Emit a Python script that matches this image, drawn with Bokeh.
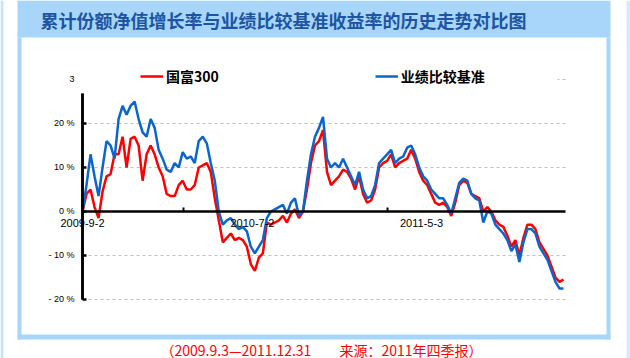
from bokeh.plotting import figure
from bokeh.models import FixedTicker, Legend, LegendItem, BoxAnnotation, Label
from bokeh.embed import file_html
from bokeh.resources import INLINE

# ---------------- data ----------------
title_text = "累计份额净值增长率与业绩比较基准收益率的历史走势对比图"
footer_text = "（2009.9.3—2011.12.31　　来源：2011年四季报）"
fund_name = "国富300"
bench_name = "业绩比较基准"

day_step = 5  # trading days between samples
fund = [0, 4, 5, 1, -1.5, 4.5, 8, 8.5, 13, 13,
        17, 10, 16.5, 17, 15, 7, 13, 15, 13, 10,
        8, 4, 3.5, 3.5, 6, 7, 5, 5, 6, 10,
        10.5, 11, 9, 3, -2, -7, -6, -5, -6.5, -6,
        -6.5, -8, -12, -13.5, -10.5, -9.5, -2.5, -3, -2.5, -2,
        -1, -2.5, -0.5, 0.5, -1.5, 0, 5, 11, 15, 16,
        18.5, 9, 6, 7, 8, 9.5, 9, 7.5, 5, 8,
        4, 2, 2.5, 5, 10, 11, 11.5, 13, 10, 11,
        11.5, 12, 14, 12, 9, 7, 6, 4, 2, 1.5,
        2, 1, -1, 2, 6, 7, 6.5, 4, 3.5, 3,
        0, 1, 0, -2, -3, -3.5, -5.5, -8, -6.5, -10,
        -6, -3, -3, -4, -7, -8.5, -10, -12.5, -15, -16,
        -15.5]
bench = [0, 6, 13, 8, 3.5, 10, 16, 15, 12, 21,
         24, 22, 24, 25, 21, 18, 17, 21, 19, 14,
         12, 9.5, 9, 11, 10, 13.5, 12, 12.5, 11, 16,
         17, 15.5, 11, 7, 0, -3, -2, -1.5, -3, -4,
         -3.5, -4.5, -8, -9.5, -8, -6.5, -1.5, 0, 0.5, 1,
         1.5, -0.5, 2, 3, -1, 0, 7, 13, 17, 19,
         21.5, 12, 10, 11, 10, 12, 10, 8, 6, 9,
         5, 3, 3.5, 6, 11, 12, 13, 14, 11, 12,
         12.5, 14.5, 15, 13, 10, 8, 7, 5, 4, 3,
         3, 1.5, -0.5, 3, 6.5, 7.5, 7, 4, 3, 2.5,
         -2.5, 0, -0.5, -3, -4, -5, -6.5, -9, -7.5, -11.5,
         -7, -4, -4, -5, -8, -9.5, -11, -13.5, -16, -17.5,
         -17.5]
day = [i * day_step for i in range(len(fund))]
last_day = 602.5

date_ticks = [0, 212, 423]
date_labels = ["2009-9-2", "2010-7-2", "2011-5-3"]
minor_days = [126, 380]
y_ticks = [-20, -10, 0, 10, 20, 30]
y_labels = ["- 20 %", "- 10 %", "0 %", "10 %", "20 %", "3"]
grid_ticks = [-20, -10, 10, 20, 30]

# ---------------- figure ----------------
W, H = 630, 358
X0, X1 = -102.3, 683.6
Y0, Y1 = -33.41, 47.95
p = figure(width=W, height=H, output_backend="svg", toolbar_location=None,
           x_range=(X0, X1), y_range=(Y0, Y1), min_border=0)
p.outline_line_color = None
p.background_fill_color = "white"
p.border_fill_color = "white"

r_fund = p.line(day, fund, line_color="#ff0000", line_width=2.5)
r_bench = p.line(day, bench, line_color="#0a66cc", line_width=2.5)

# value-axis rule drawn as a thin quad in data space (top part hidden by the legend band)
p.quad(left=[date_ticks[0] - 1.6], right=[date_ticks[0] + 1.6],
       bottom=[min(y_ticks)], top=[26.8], fill_color="black", line_color=None,
       level="overlay")

# grid
p.xgrid.visible = False
yg = p.ygrid[0]
yg.ticker = FixedTicker(ticks=grid_ticks)
yg.grid_line_color = "#c0c0c0"
yg.grid_line_dash = "3 3"
yg.grid_line_width = 1
if "cross_bounds" in yg.properties():
    yg.cross_bounds = (0, last_day)

# y axis at day 0
ya = p.yaxis[0]
ya.fixed_location = 0
ya.bounds = (-20, 30)
ya.ticker = FixedTicker(ticks=y_ticks)
ya.major_label_overrides = dict(zip(y_ticks, y_labels))
ya.axis_line_width = 2.5
ya.axis_line_color = "black"
ya.major_tick_in = 4
ya.major_tick_out = 0
ya.major_tick_line_width = 2.5
ya.major_tick_line_color = "black"
ya.minor_tick_line_color = None
ya.major_label_standoff = 8
ya.major_label_text_font = "Liberation Sans"
ya.major_label_text_font_size = "9px"
ya.major_label_text_color = "black"

# x axis at y = 0
xa = p.xaxis[0]
xa.fixed_location = 0
xa.bounds = (0, last_day)
xa.ticker = FixedTicker(ticks=date_ticks, minor_ticks=minor_days)
xa.major_label_overrides = dict(zip(date_ticks, date_labels))
xa.axis_line_width = 2.5
xa.axis_line_color = "black"
xa.major_tick_line_color = None
xa.major_tick_in = 0
xa.major_tick_out = 0
xa.minor_tick_in = 4
xa.minor_tick_out = 0
xa.minor_tick_line_width = 2
xa.minor_tick_line_color = "black"
xa.major_label_standoff = 8
xa.major_label_text_font = "Liberation Sans"
xa.major_label_text_font_size = "11px"
xa.major_label_text_color = "black"


def sbox(x0, x1, y0, y1, color, level="annotation"):
    """box in canvas pixels measured from the top-left corner"""
    return BoxAnnotation(left=x0, right=x1, bottom=H - y1, top=H - y0,
                         left_units="screen", right_units="screen",
                         bottom_units="screen", top_units="screen",
                         fill_color=color, fill_alpha=1, line_color=None,
                         level=level)


# decorative panel (title bar + light-blue borders)
panel_blue = "#a8d6fa"
p.add_layout(sbox(17, 610, 0, 37, panel_blue, "underlay"))
p.add_layout(sbox(17, 21, 37, 339, panel_blue, "underlay"))
p.add_layout(sbox(606, 610, 37, 339, panel_blue, "underlay"))
p.add_layout(sbox(17, 610, 334, 339, panel_blue, "underlay"))
p.add_layout(sbox(0, 3, 0, H, "#c6e4fb", "underlay"))
p.add_layout(sbox(626, 630, 0, H, "#d4ebfc", "underlay"))

# white box behind legend (hides the top gridline like the original)
p.add_layout(sbox(76, 557, 60, 93, "white"))

legend = Legend(items=[LegendItem(label=fund_name, renderers=[r_fund]),
                       LegendItem(label=bench_name, renderers=[r_bench])],
                orientation="horizontal", location=(140, H - 86),
                background_fill_alpha=0, border_line_color=None,
                padding=0, margin=0, spacing=156, glyph_width=23, glyph_height=14,
                label_standoff=3, label_text_font="Noto Sans CJK SC",
                label_text_font_style="bold", label_text_font_size="14px",
                label_text_color="black")
p.add_layout(legend)

p.add_layout(Label(x=40, y=H - 19, x_units="screen", y_units="screen", text=title_text,
                   text_font="Noto Sans CJK SC", text_font_style="bold",
                   text_font_size="18px", text_color="#1d55a3", text_baseline="middle"))
p.add_layout(Label(x=321, y=H - 349, x_units="screen", y_units="screen", text=footer_text,
                   text_font="Noto Sans CJK SC", text_font_size="14px",
                   text_color="#ff0000", text_align="center", text_baseline="middle"))

open("out.html", "w").write(file_html(p, INLINE))
